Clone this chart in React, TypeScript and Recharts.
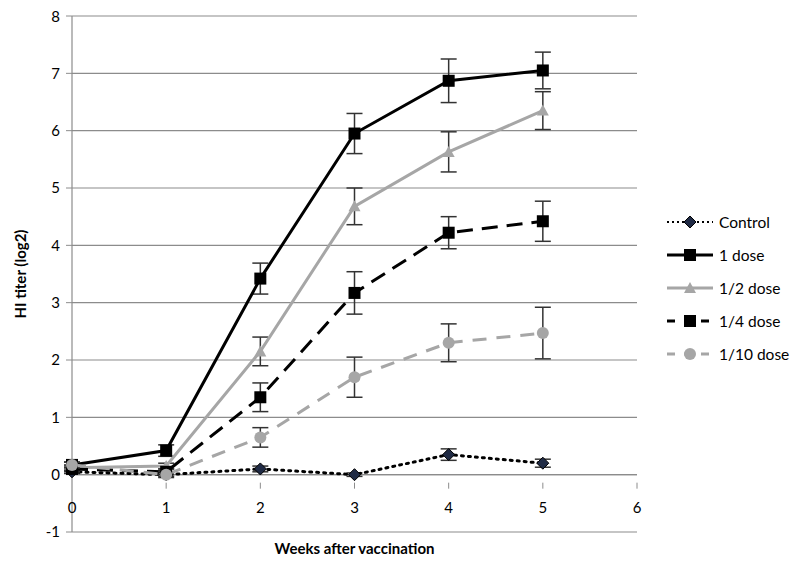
import React from 'react';
import { LineChart, Line, XAxis, YAxis, CartesianGrid, ErrorBar, ReferenceLine, Legend } from 'recharts';

const weeks = [0, 1, 2, 3, 4, 5];
const controlVals = [0.05, 0.0, 0.1, 0.0, 0.35, 0.2];
const controlErr = [0.03, 0.03, 0.05, 0.03, 0.1, 0.07];
const dose1Vals = [0.17, 0.42, 3.42, 5.95, 6.87, 7.05];
const dose1Err = [0.05, 0.1, 0.27, 0.35, 0.38, 0.32];
const halfVals = [0.12, 0.15, 2.15, 4.68, 5.63, 6.35];
const halfErr = [0.05, 0.05, 0.25, 0.32, 0.35, 0.33];
const quarterVals = [0.1, 0.05, 1.35, 3.17, 4.22, 4.42];
const quarterErr = [0.05, 0.05, 0.25, 0.37, 0.28, 0.35];
const tenthVals = [0.17, 0.0, 0.65, 1.7, 2.3, 2.47];
const tenthErr = [0.05, 0.05, 0.17, 0.35, 0.33, 0.45];
const xTicks = [0, 1, 2, 3, 4, 5, 6];
const yTicks = [-1, 0, 1, 2, 3, 4, 5, 6, 7, 8];
const seriesNames = ['Control', '1 dose', '1/2 dose', '1/4 dose', '1/10 dose'];

const data = weeks.map((w, i) => ({
  week: w,
  control: controlVals[i], controlE: controlErr[i],
  d1: dose1Vals[i], d1E: dose1Err[i],
  half: halfVals[i], halfE: halfErr[i],
  quarter: quarterVals[i], quarterE: quarterErr[i],
  tenth: tenthVals[i], tenthE: tenthErr[i],
}));

const FONT = 'Lato, "Open Sans", sans-serif';
const GRAY = '#A6A6A6';
const GRID = '#8C8C8C';
const ERR = '#333333';

const CHART_W = 784;
const CHART_H = 556;
const MARGIN = { top: 8, right: 15, left: 0, bottom: 2 };
const XAXIS_H = 30;
const PLOT_H = CHART_H - MARGIN.top - MARGIN.bottom - XAXIS_H;
const UNIT = PLOT_H / (yTicks[yTicks.length - 1] - yTicks[0]);

type MarkerKind = 'square' | 'triangle' | 'circle' | 'diamond';

const Marker = ({ cx, cy, kind, color }: { cx: number; cy: number; kind: MarkerKind; color: string }) => {
  if (cx == null || cy == null) return null;
  if (kind === 'square') return <rect x={cx - 6} y={cy - 6} width={12} height={12} fill={color} />;
  if (kind === 'triangle') return <polygon points={`${cx},${cy - 6} ${cx + 6},${cy + 5} ${cx - 6},${cy + 5}`} fill={color} />;
  if (kind === 'circle') return <circle cx={cx} cy={cy} r={6} fill={color} />;
  return <polygon points={`${cx},${cy - 6} ${cx + 6},${cy} ${cx},${cy + 6} ${cx - 6},${cy}`} fill="#1F2A44" stroke="#000" strokeWidth={1} />;
};

const makeDot = (kind: MarkerKind, color: string) => (props: any) => (
  <Marker key={`${kind}-${props.index}`} cx={props.cx} cy={props.cy} kind={kind} color={color} />
);

const legendItems = [
  { name: seriesNames[0], color: '#000', dash: '2 3', kind: 'diamond' as MarkerKind, mcolor: '#1F2A44' },
  { name: seriesNames[1], color: '#000', dash: undefined, kind: 'square' as MarkerKind, mcolor: '#000' },
  { name: seriesNames[2], color: GRAY, dash: undefined, kind: 'triangle' as MarkerKind, mcolor: GRAY },
  { name: seriesNames[3], color: '#000', dash: '8 9', kind: 'square' as MarkerKind, mcolor: '#000' },
  { name: seriesNames[4], color: GRAY, dash: '8 9', kind: 'circle' as MarkerKind, mcolor: GRAY },
];

const LegendContent = () => (
  <div style={{ fontFamily: FONT, fontSize: 15.5, color: '#000' }}>
    {legendItems.map((it) => (
      <div key={it.name} style={{ display: 'flex', alignItems: 'center', height: 33 }}>
        <svg width={50} height={16} style={{ marginRight: 4 }}>
          <line x1={2} y1={8} x2={48} y2={8} stroke={it.color} strokeWidth={it.dash === '2 3' ? 2 : 3} strokeDasharray={it.dash} />
          <Marker cx={25} cy={8} kind={it.kind} color={it.mcolor} />
        </svg>
        <span>{it.name}</span>
      </div>
    ))}
  </div>
);

const XTick = (props: any) => {
  const { x, y, payload } = props;
  const y0 = y - UNIT;
  return (
    <g>
      {payload.value !== 0 && <line x1={x} y1={y0} x2={x} y2={y0 + 6} stroke={GRID} strokeWidth={1} />}
      <text x={x} y={y0 + 30} textAnchor="middle" fontFamily={FONT} fontSize={15} fill="#000">{payload.value}</text>
    </g>
  );
};

export default function App() {
  return (
    <LineChart width={CHART_W} height={CHART_H} data={data} margin={MARGIN}>
      <CartesianGrid vertical={false} stroke={GRID} strokeWidth={1.2} />
      <XAxis
        dataKey="week"
        type="number"
        domain={[0, 6]}
        ticks={xTicks}
        axisLine={false}
        tickLine={false}
        height={XAXIS_H}
        tick={<XTick />}
        label={{ value: 'Weeks after vaccination', position: 'insideBottom', offset: 8, style: { fontFamily: FONT, fontSize: 15, fontWeight: 'bold', fill: '#000' } }}
      />
      <YAxis
        type="number"
        domain={[-1, 8]}
        ticks={yTicks}
        width={64}
        axisLine={{ stroke: GRID, strokeWidth: 1.2 }}
        tickLine={{ stroke: GRID }}
        tickSize={6}
        tick={{ fontFamily: FONT, fontSize: 15, fill: '#000', dx: -4 }}
        label={{ value: 'HI titer (log2)', angle: -90, position: 'insideLeft', offset: 13, style: { textAnchor: 'middle', fontFamily: FONT, fontSize: 15, fontWeight: 'bold', fill: '#000' } }}
      />
      <ReferenceLine y={0} stroke={GRID} strokeWidth={1.2} />
      <Legend layout="vertical" align="right" verticalAlign="top" wrapperStyle={{ top: 197, left: 657, width: 140 }} content={<LegendContent />} />
      <Line dataKey="control" name={seriesNames[0]} stroke="#000" strokeWidth={3} strokeDasharray="2 5" strokeLinecap="round" dot={makeDot('diamond', '#1F2A44')} isAnimationActive={false}>
        <ErrorBar dataKey="controlE" direction="y" width={8} stroke={ERR} strokeWidth={1.5} />
      </Line>
      <Line dataKey="d1" name={seriesNames[1]} stroke="#000" strokeWidth={3} dot={makeDot('square', '#000')} isAnimationActive={false}>
        <ErrorBar dataKey="d1E" direction="y" width={8} stroke={ERR} strokeWidth={1.5} />
      </Line>
      <Line dataKey="half" name={seriesNames[2]} stroke={GRAY} strokeWidth={3} dot={makeDot('triangle', GRAY)} isAnimationActive={false}>
        <ErrorBar dataKey="halfE" direction="y" width={8} stroke={ERR} strokeWidth={1.5} />
      </Line>
      <Line dataKey="quarter" name={seriesNames[3]} stroke="#000" strokeWidth={3} strokeDasharray="16 9" dot={makeDot('square', '#000')} isAnimationActive={false}>
        <ErrorBar dataKey="quarterE" direction="y" width={8} stroke={ERR} strokeWidth={1.5} />
      </Line>
      <Line dataKey="tenth" name={seriesNames[4]} stroke={GRAY} strokeWidth={3} strokeDasharray="14 10" dot={makeDot('circle', GRAY)} isAnimationActive={false}>
        <ErrorBar dataKey="tenthE" direction="y" width={8} stroke={ERR} strokeWidth={1.5} />
      </Line>
    </LineChart>
  );
}
